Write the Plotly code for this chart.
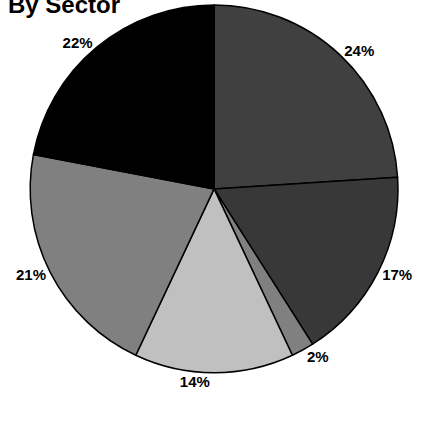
import plotly.graph_objects as go

sectors = ["Sector A", "Sector B", "Sector C", "Sector D", "Sector E", "Sector F"]
shares = [24, 17, 2, 14, 21, 22]
colors = ["#404040", "#383838", "#808080", "#c0c0c0", "#808080", "#000000"]
title_text = "By Sector"

font_family = "Liberation Sans, Arial, sans-serif"

fig = go.Figure(go.Pie(
    labels=sectors,
    values=shares,
    sort=False,
    direction="clockwise",
    rotation=0,
    domain=dict(x=[0.066, 0.951], y=[0.118, 1.0]),
    marker=dict(colors=colors, line=dict(color="#000000", width=1.5)),
    texttemplate="<b>%{value}%</b>",
    textposition="outside",
    textfont=dict(family=font_family, size=15, color="#000000"),
    outsidetextfont=dict(family=font_family, size=15, color="#000000"),
    hoverinfo="label+percent",
    showlegend=False,
))
fig.update_layout(
    width=421, height=422,
    margin=dict(l=0, r=0, t=0, b=0),
    paper_bgcolor="white", plot_bgcolor="white",
    annotations=[dict(
        text="<b>" + title_text + "</b>", xref="paper", yref="paper",
        x=0, y=1, xanchor="left", yanchor="middle", xshift=6, yshift=1,
        showarrow=False, font=dict(family=font_family, size=24, color="#000000"),
    )],
)
fig.write_html("out.html")
